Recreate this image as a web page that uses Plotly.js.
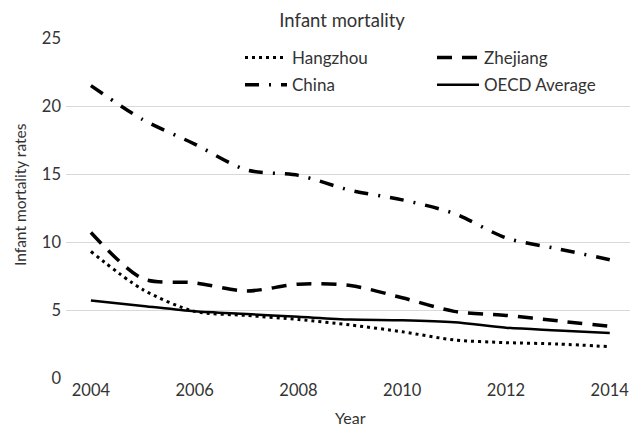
<!DOCTYPE html>
<html>
<head>
<meta charset="utf-8">
<script src="https://cdn.plot.ly/plotly-3.0.1.min.js"></script>
<style>html,body{margin:0;padding:0;background:#fff;}#chart{width:630px;height:427px;}</style>
</head>
<body>
<div id="chart"></div>
<script>
const years = [2004, 2005, 2006, 2007, 2008, 2009, 2010, 2011, 2012, 2013, 2014];
const hangzhou = [9.3, 6.5, 4.9, 4.6, 4.3, 3.9, 3.4, 2.8, 2.6, 2.5, 2.3];
const zhejiang = [10.7, 7.3, 7.0, 6.4, 6.9, 6.8, 5.9, 4.9, 4.6, 4.2, 3.8];
const china = [21.5, 19.0, 17.2, 15.3, 14.9, 13.8, 13.1, 12.1, 10.3, 9.5, 8.7];
const oecd = [5.7, 5.3, 4.9, 4.7, 4.5, 4.3, 4.25, 4.1, 3.7, 3.5, 3.3];
const xTicks = [2004, 2006, 2008, 2010, 2012, 2014];
const yTicks = [0, 5, 10, 15, 20, 25];

const FONT = 'Lato, "Open Sans", sans-serif';
const TXT = '#333333';

const traces = [
  {x: years, y: hangzhou, name: 'Hangzhou', mode: 'lines', legend: 'legend', legendgroup: 'a',
   line: {color: '#000', width: 3, dash: '3px,4px', shape: 'spline', smoothing: 0.8}},
  {x: years, y: china, name: 'China', mode: 'lines', legend: 'legend', legendgroup: 'b',
   line: {color: '#000', width: 3.5, dash: '14px,10px,2px,10px', shape: 'spline', smoothing: 0.8}},
  {x: years, y: zhejiang, name: 'Zhejiang', mode: 'lines', legend: 'legend2', legendgroup: 'c',
   line: {color: '#000', width: 3.5, dash: '15px,10px', shape: 'spline', smoothing: 0.8}},
  {x: years, y: oecd, name: 'OECD Average', mode: 'lines', legend: 'legend2', legendgroup: 'd',
   line: {color: '#000', width: 2.5, shape: 'spline', smoothing: 0.8}}
];

const legendBase = {orientation: 'v', xanchor: 'left', y: 0.994, yanchor: 'top',
  itemwidth: 42, bgcolor: 'rgba(0,0,0,0)', font: {size: 17, color: TXT},
  traceorder: 'grouped', tracegroupgap: 2};

const layout = {
  width: 630, height: 427,
  margin: {l: 66, r: 0, t: 38, b: 49},
  paper_bgcolor: '#fff', plot_bgcolor: '#fff',
  font: {family: FONT, color: TXT, size: 15},
  title: {text: 'Infant mortality', xref: 'container', x: 0.543, xanchor: 'center',
          yref: 'container', y: 1 - 21/427, yanchor: 'middle', font: {size: 18.5, color: TXT}},
  showlegend: true,
  legend: Object.assign({}, legendBase, {x: (240 - 66) / 564}),
  legend2: Object.assign({}, legendBase, {x: (432 - 66) / 564}),
  xaxis: {range: [2003.52, 2014.39], tickvals: xTicks, ticktext: xTicks.map(String),
          showgrid: false, zeroline: false, showline: false, ticks: '',
          tickfont: {size: 16.5, color: TXT}, fixedrange: true},
  yaxis: {range: [0, 25], tickvals: yTicks, showgrid: true, gridcolor: '#d9d9d9', gridwidth: 1,
          zeroline: false, showline: false, ticks: '', ticklabelstandoff: 4,
          tickfont: {size: 16.5, color: TXT}, fixedrange: true},
  annotations: [
    {text: 'Infant mortality rates', xref: 'paper', yref: 'paper', x: (20 - 66) / 564, y: (378 - 194) / 340,
     xanchor: 'center', yanchor: 'middle', textangle: -90, showarrow: false, font: {size: 15.5, color: TXT}},
    {text: 'Year', xref: 'paper', yref: 'paper', x: (350 - 66) / 564, y: (378 - 417) / 340,
     xanchor: 'center', yanchor: 'middle', showarrow: false, font: {size: 16, color: TXT}}
  ]
};

Plotly.newPlot('chart', traces, layout, {displayModeBar: false, staticPlot: true});
</script>
</body>
</html>
